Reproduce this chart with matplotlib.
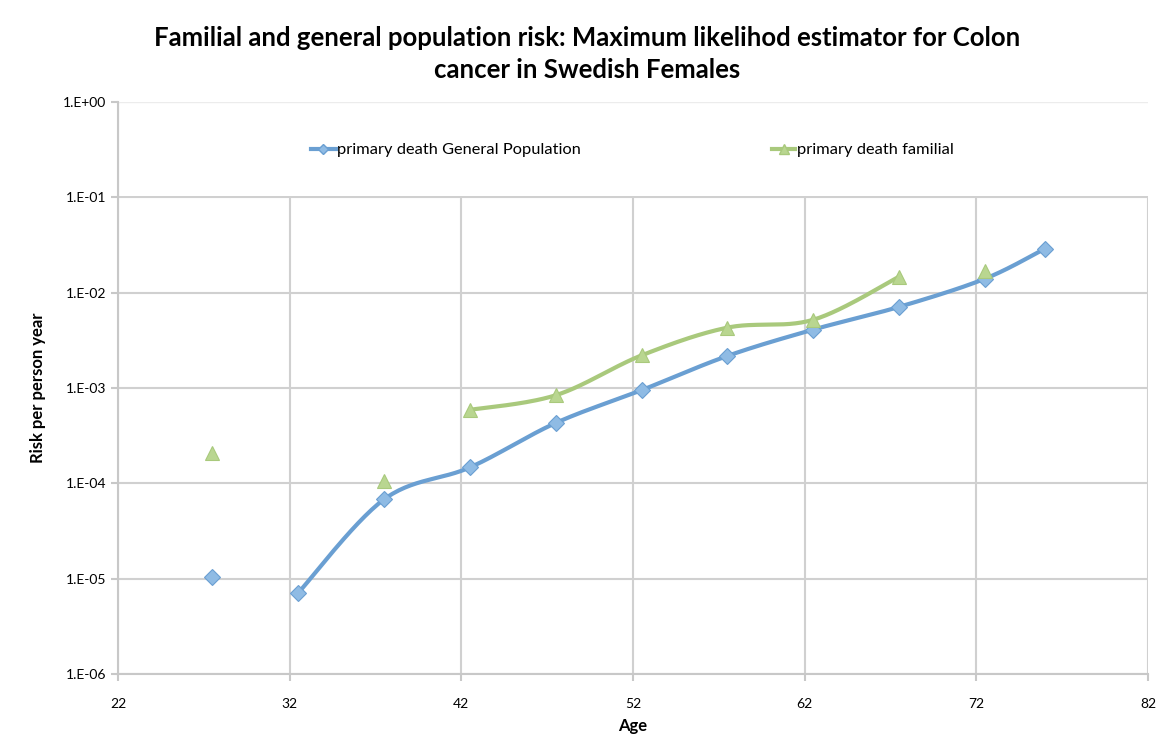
import numpy as np
import matplotlib
matplotlib.use("Agg")
import matplotlib.pyplot as plt
from matplotlib.lines import Line2D
from matplotlib.patches import Rectangle

plt.rcParams['font.family'] = ['Lato', 'DejaVu Sans']

# data (age, risk per person year)
gen_age = [27.5, 32.5, 37.5, 42.5, 47.5, 52.5, 57.5, 62.5, 67.5, 72.5, 76.0]
gen_risk = [1.05e-5, 7.1e-6, 6.8e-5, 1.47e-4, 4.3e-4, 9.5e-4, 2.17e-3, 4.1e-3, 7.1e-3, 1.4e-2, 2.9e-2]
gen_linked = [False, True, True, True, True, True, True, True, True, True, True]

fam_age = [27.5, 37.5, 42.5, 47.5, 52.5, 57.5, 62.5, 67.5, 72.5]
fam_risk = [2.1e-4, 1.07e-4, 5.9e-4, 8.4e-4, 2.2e-3, 4.3e-3, 5.2e-3, 1.47e-2, 1.7e-2]
fam_linked = [False, False, True, True, True, True, True, True, False]

x_ticks = [22, 32, 42, 52, 62, 72, 82]
y_ticks = [1e-6, 1e-5, 1e-4, 1e-3, 1e-2, 1e-1, 1e0]

BLUE = '#6a9fd2'
BLUE_MK = '#8fbbe4'
GREEN = '#a9c97c'
GREEN_MK = '#b9d690'


def smooth(xs, ys, n=30):
    # Excel style bezier smoothing, done in log space for y
    px = np.array(xs, float)
    py = np.log10(np.array(ys, float))
    outx, outy = [], []
    m = len(px)
    for i in range(m - 1):
        p0 = i - 1 if i > 0 else i
        p3 = i + 2 if i + 2 < m else i + 1
        c1x = px[i] + (px[i + 1] - px[p0]) / 6
        c1y = py[i] + (py[i + 1] - py[p0]) / 6
        c2x = px[i + 1] - (px[p3] - px[i]) / 6
        c2y = py[i + 1] - (py[p3] - py[i]) / 6
        t = np.linspace(0, 1, n)
        bx = (1 - t) ** 3 * px[i] + 3 * (1 - t) ** 2 * t * c1x + 3 * (1 - t) * t ** 2 * c2x + t ** 3 * px[i + 1]
        by = (1 - t) ** 3 * py[i] + 3 * (1 - t) ** 2 * t * c1y + 3 * (1 - t) * t ** 2 * c2y + t ** 3 * py[i + 1]
        outx.extend(bx)
        outy.extend(by)
    return np.array(outx), 10 ** np.array(outy)


fig = plt.figure(figsize=(11.59, 7.34), dpi=100)
ax = fig.add_axes([0.1018, 0.0817, 0.8887, 0.7793])
ax.set_yscale('log')
ax.set_xlim(22, 82)
ax.set_ylim(1e-6, 1e0)

ax.grid(True, color='#d0d0d0', linewidth=1.5, zorder=0)
ax.set_xticks(x_ticks)
ax.set_yticks(y_ticks)
ax.minorticks_off()
ax.set_yticklabels(['1.E-06', '1.E-05', '1.E-04', '1.E-03', '1.E-02', '1.E-01', '1.E+00'])
ax.tick_params(axis='both', labelsize=10, color='#c8c8c8', width=1.5, length=5)
ax.tick_params(axis='x', pad=12)
for s in ['top', 'right']:
    ax.spines[s].set_visible(False)
for s in ['left', 'bottom']:
    ax.spines[s].set_color('#c8c8c8')
    ax.spines[s].set_linewidth(1.5)

# white legend area covering the top decade
ax.add_patch(Rectangle((0.002, 0.836), 1, 0.164, transform=ax.transAxes,
                       facecolor='white', edgecolor='none', zorder=2))
ax.plot([0, 1], [1, 1], transform=ax.transAxes, color='#ececec', lw=1, zorder=2)

for ages, risks, linked, lc, mc, mk, ms in [
        (gen_age, gen_risk, gen_linked, BLUE, BLUE_MK, 'D', 8),
        (fam_age, fam_risk, fam_linked, GREEN, GREEN_MK, '^', 10)]:
    seg_x = [a for a, l in zip(ages, linked) if l]
    seg_y = [r for r, l in zip(risks, linked) if l]
    sx, sy = smooth(seg_x, seg_y)
    ax.plot(sx, sy, color=lc, lw=3, zorder=3, solid_capstyle='round')
    ax.plot(ages, risks, linestyle='none', marker=mk, markersize=ms,
            markerfacecolor=mc, markeredgecolor=lc, markeredgewidth=0.8, zorder=4)

h1 = Line2D([], [], color=BLUE, lw=3, marker='D', markersize=5,
            markerfacecolor=BLUE_MK, markeredgecolor=BLUE)
h2 = Line2D([], [], color=GREEN, lw=3, marker='^', markersize=7,
            markerfacecolor=GREEN_MK, markeredgecolor=GREEN)
leg1 = ax.legend([h1], ['primary death General Population'], loc='center left',
                 bbox_to_anchor=(0.181, 0.916), frameon=False, fontsize=11.8,
                 handlelength=1.5, handletextpad=0.1, borderaxespad=0)
ax.add_artist(leg1)
ax.legend([h2], ['primary death familial'], loc='center left',
          bbox_to_anchor=(0.629, 0.916), frameon=False, fontsize=11.8,
          handlelength=1.4, handletextpad=0.1, borderaxespad=0)

ax.set_xlabel('Age', fontsize=12, fontweight='bold', labelpad=6)
ax.set_ylabel('Risk per person year', fontsize=12, fontweight='bold', labelpad=12)

fig.text(0.507, 0.927, 'Familial and general population risk: Maximum likelihod estimator for Colon\ncancer in Swedish Females',
         ha='center', va='center', fontsize=18.5, fontweight='bold', linespacing=1.4)

fig.savefig('out.png', dpi=100)
